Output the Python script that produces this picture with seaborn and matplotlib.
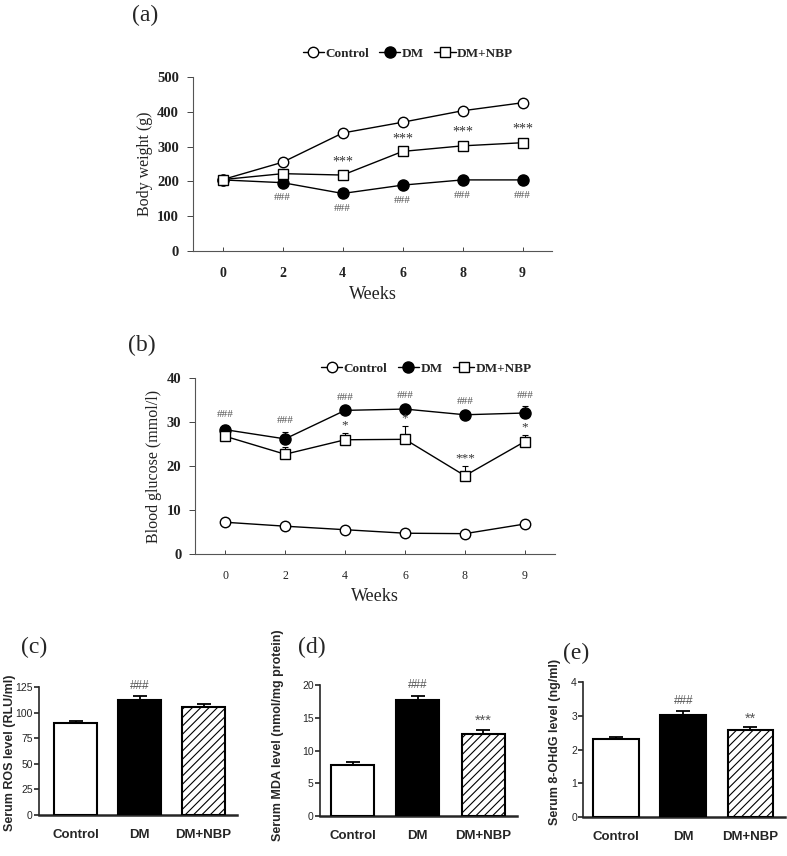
import matplotlib
matplotlib.use("Agg")
import matplotlib.pyplot as plt
import numpy as np
import pandas as pd
import seaborn as sns

# time course data (panel a, b)
weeks = ["0", "2", "4", "6", "8", "9"]
bw_control = [205, 255, 339, 370, 403, 426]
bw_dm = [204, 196, 165, 189, 204, 204]
bw_nbp = [205, 222, 218, 286, 302, 311]
bw_control_err = [4, 5, 5, 5, 5, 5]
bw_dm_err = [5, 5, 5, 5, 6, 10]
bw_nbp_err = [5, 6, 6, 6, 9, 8]
bw_nbp_marks = ["", "", "***", "***", "***", "***"]
bw_dm_marks = ["", "###", "###", "###", "###", "###"]

bg_control = [7.2, 6.3, 5.5, 4.7, 4.6, 6.8]
bg_dm = [28.3, 26.2, 32.7, 33.0, 31.7, 32.1]
bg_nbp = [26.8, 22.7, 26.0, 26.1, 17.8, 25.6]
bg_control_err = [0.3, 0.3, 0.3, 0.3, 0.3, 0.4]
bg_dm_err = [1.0, 1.6, 0.5, 0.5, 0.5, 1.5]
bg_nbp_err = [0.8, 1.6, 1.5, 3.0, 2.3, 1.5]
bg_dm_marks = ["###"] * 6
bg_nbp_marks = ["", "", "*", "*", "***", "*"]

# serum markers (panel c, d, e)
groups = ["Control", "DM", "DM+NBP"]
ros = [90.5, 112.5, 106]
ros_err = [2, 4, 3]
ros_marks = ["", "###", ""]
mda = [7.8, 17.7, 12.5]
mda_err = [0.4, 0.7, 0.7]
mda_marks = ["", "###", "***"]
ohdg = [2.3, 3.04, 2.58]
ohdg_err = [0.07, 0.1, 0.08]
ohdg_marks = ["", "###", "**"]

sns.set_style("ticks")
plt.rcParams["font.family"] = ["Liberation Serif", "DejaVu Serif"]
plt.rcParams["hatch.linewidth"] = 0.8

SERIF = ["Liberation Serif", "DejaVu Serif"]
SANS = ["Liberation Sans", "DejaVu Sans"]

fig = plt.figure(figsize=(7.87, 8.56), dpi=100)


def line_panel(rect, series, ylim, yticks, ylabel, legend_x, legend_y, xtick_bold, xtick_size):
    ax = fig.add_axes(rect)
    x = np.arange(len(weeks))
    styles = {
        "Control": dict(marker="o", markerfacecolor="white", markersize=7.5),
        "DM": dict(marker="o", markerfacecolor="black", markersize=8),
        "DM+NBP": dict(marker="s", markerfacecolor="white", markersize=7.5),
    }
    for name, vals, err in series:
        ax.errorbar(x, vals, yerr=[np.zeros(len(err)), err], fmt="none",
                    ecolor="black", elinewidth=0.8, capsize=2.5, capthick=0.8, zorder=2)
        sns.lineplot(x=x, y=vals, ax=ax, color="black", linewidth=1.0,
                     markeredgecolor="black", markeredgewidth=1.0, label=name,
                     zorder=3, **styles[name])
    ax.set_xlim(-0.5, 5.5)
    ax.set_ylim(*ylim)
    ax.set_yticks(yticks)
    ax.set_xticks(x)
    ax.set_xticklabels(weeks, fontsize=xtick_size, fontweight="bold" if xtick_bold else "normal",
                       family=SERIF)
    ax.set_yticklabels([str(t) for t in yticks], fontsize=10.5, fontweight="bold", family=SERIF)
    ax.tick_params(axis="x", direction="in", length=3, width=0.7, pad=12, colors="#444444")
    ax.tick_params(axis="y", direction="out", length=4, width=0.7, pad=6, colors="#444444")
    for lab in ax.get_xticklabels() + ax.get_yticklabels():
        lab.set_color("#222222")
    for s in ["top", "right"]:
        ax.spines[s].set_visible(False)
    for s in ["left", "bottom"]:
        ax.spines[s].set_linewidth(0.8)
        ax.spines[s].set_color("#555555")
    ax.set_ylabel(ylabel, fontsize=11.5, family=SERIF, color="#222222", labelpad=3)
    ax.set_xlabel("Weeks", fontsize=13, family=SERIF, color="#222222", labelpad=4)
    ax.legend(ncol=3, loc="lower right", bbox_to_anchor=(legend_x, legend_y), frameon=False,
              handlelength=1.6, handletextpad=0.1, columnspacing=0.8, borderaxespad=0,
              prop={"family": SERIF, "weight": "bold", "size": 9.5})
    return ax


# panel (a)
ax_a = line_panel([0.245, 0.707, 0.457, 0.203],
                  [("Control", bw_control, bw_control_err),
                   ("DM", bw_dm, bw_dm_err),
                   ("DM+NBP", bw_nbp, bw_nbp_err)],
                  (0, 500), [0, 100, 200, 300, 400, 500], "Body weight (g)",
                  0.905, 1.07, True, 10)
for i in range(len(weeks)):
    if bw_nbp_marks[i]:
        ax_a.annotate(bw_nbp_marks[i], (i, bw_nbp[i] + bw_nbp_err[i]), xytext=(0, 3),
                      textcoords="offset points", ha="center", va="bottom",
                      fontsize=10, color="#333333", family=SERIF)
    if bw_dm_marks[i]:
        ax_a.annotate(bw_dm_marks[i], (i, bw_dm[i]), xytext=(0, -11),
                      textcoords="offset points", ha="center", va="center",
                      fontsize=8, color="#555555", family=SERIF)

# panel (b)
ax_b = line_panel([0.248, 0.353, 0.457, 0.205],
                  [("Control", bg_control, bg_control_err),
                   ("DM", bg_dm, bg_dm_err),
                   ("DM+NBP", bg_nbp, bg_nbp_err)],
                  (0, 40), [0, 10, 20, 30, 40], "Blood glucose (mmol/l)",
                  0.95, 0.99, False, 8.5)
for i in range(len(weeks)):
    ax_b.annotate(bg_dm_marks[i], (i, bg_dm[i] + bg_dm_err[i]), xytext=(0, 8),
                  textcoords="offset points", ha="center", va="center",
                  fontsize=8, color="#555555", family=SERIF)
    if bg_nbp_marks[i]:
        ax_b.annotate(bg_nbp_marks[i], (i, bg_nbp[i] + bg_nbp_err[i]), xytext=(0, 1),
                      textcoords="offset points", ha="center", va="bottom",
                      fontsize=9.5, color="#333333", family=SERIF)


def bar_panel(rect, vals, err, marks, ylim, yticks, ylabel, xlim, width, label_xy):
    ax = fig.add_axes(rect)
    df = pd.DataFrame({"group": groups, "value": vals})
    sns.barplot(data=df, x="group", y="value", hue="group",
                palette={"Control": "white", "DM": "black", "DM+NBP": "white"},
                edgecolor="black", linewidth=1.5, width=width, legend=False, ax=ax, zorder=3)
    ax.patches[2].set_hatch("////")
    ax.errorbar(np.arange(3), vals, yerr=[np.zeros(3), err], fmt="none", ecolor="black",
                elinewidth=1.3, capsize=5, capthick=1.3, zorder=2)
    for i, m in enumerate(marks):
        if m:
            star = m.startswith("*")
            ax.annotate(m, (i, vals[i] + err[i]), xytext=(0, 1 if star else 3),
                        textcoords="offset points", ha="center", va="bottom",
                        fontsize=10.5 if star else 8.5, color="#555555", family=SANS)
    ax.set_xlim(*xlim)
    ax.set_ylim(*ylim)
    ax.set_yticks(yticks)
    ax.set_yticklabels([str(t) for t in yticks], fontsize=7.5, family=SANS)
    ax.set_xticks(range(3))
    ax.set_xticklabels(groups, fontsize=9.5, fontweight="bold", family=SANS)
    ax.tick_params(axis="x", length=0, pad=10)
    ax.tick_params(axis="y", direction="out", length=3.5, width=1.2, pad=1)
    for s in ["top", "right"]:
        ax.spines[s].set_visible(False)
    ax.spines["left"].set_linewidth(1.2)
    ax.spines["bottom"].set_linewidth(1.8)
    ax.set_xlabel("")
    ax.set_ylabel(ylabel, fontsize=9, fontweight="bold", family=SANS, va="center")
    ax.yaxis.set_label_coords(*label_xy)
    return ax


bar_panel([0.0496, 0.048, 0.2515, 0.149], ros, ros_err, ros_marks, (0, 125),
          [0, 25, 50, 75, 100, 125], "Serum ROS level (RLU/ml)", (-0.57, 2.52), 0.68,
          (-0.145, 0.49))
bar_panel([0.4066, 0.0467, 0.2504, 0.153], mda, mda_err, mda_marks, (0, 20),
          [0, 5, 10, 15, 20], "Serum MDA level (nmol/mg protein)", (-0.5, 2.52), 0.66,
          (-0.215, 0.62))
bar_panel([0.741, 0.0456, 0.256, 0.1575], ohdg, ohdg_err, ohdg_marks, (0, 4),
          [0, 1, 2, 3, 4], "Serum 8-OHdG level (ng/ml)", (-0.49, 2.51), 0.68,
          (-0.142, 0.56))

# panel letters
for lab, x, y in [("(a)", 0.168, 0.982), ("(b)", 0.163, 0.597), ("(c)", 0.027, 0.244),
                  ("(d)", 0.379, 0.244), ("(e)", 0.716, 0.237)]:
    fig.text(x, y, lab, fontsize=17, family=SERIF, va="center", ha="left")

fig.savefig("out.png", dpi=100)
